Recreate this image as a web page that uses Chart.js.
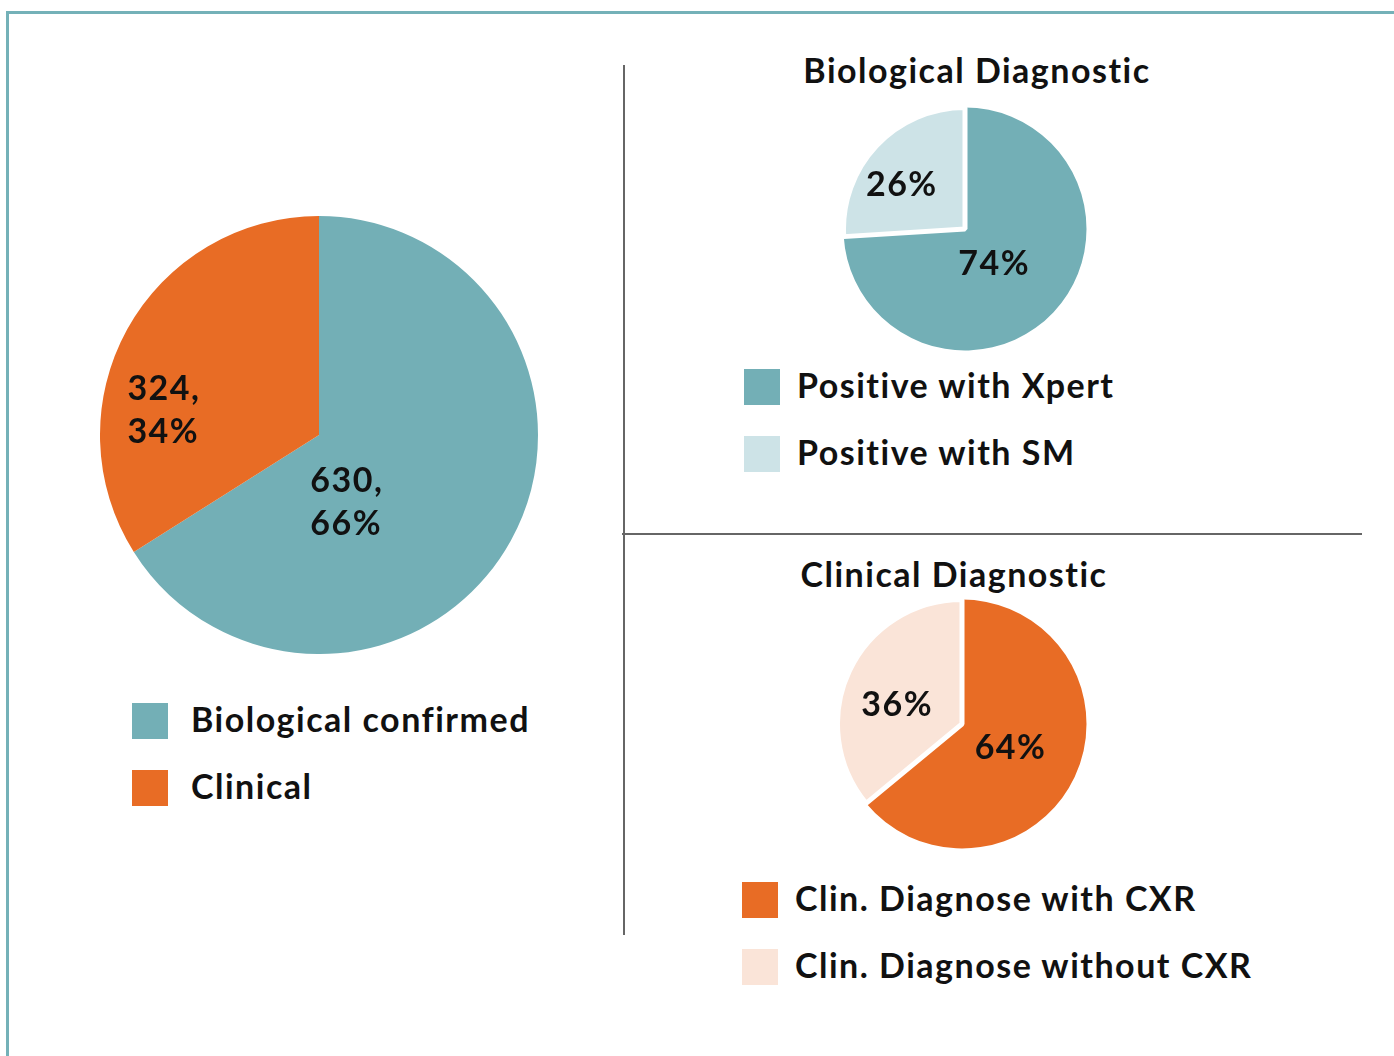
<!DOCTYPE html>
<html>
<head>
<meta charset="utf-8">
<script src="https://cdn.jsdelivr.net/npm/chart.js@4.4.1/dist/chart.umd.min.js"></script>
<style>
  body { margin: 0; background: #fff; font-family: Lato, "DejaVu Sans", sans-serif; }
  #page { position: relative; width: 1394px; height: 1056px; overflow: hidden; }
  #frame { position: absolute; left: 6px; top: 11px; right: -10px; bottom: -10px;
           border-left: 3px solid #74b1b8; border-top: 3px solid #74b1b8; }
  .pie { position: absolute; }
  .title { position: absolute; font-weight: 700; font-size: 34px; letter-spacing: 1.5px; color: #111;
           white-space: nowrap; transform: translate(-50%, -50%); }
  .legend { position: absolute; }
  .legend .item { position: relative; height: 36px; margin-bottom: 31px; white-space: nowrap; }
  .legend .sw { position: absolute; left: 0; top: 0; width: 36px; height: 36px; }
  .legend .txt { position: absolute; top: 50%; transform: translateY(-56%);
                 font-weight: 700; font-size: 34px; letter-spacing: 1.5px; color: #111; }
  .vline { position: absolute; left: 623px; top: 65px; width: 2px; height: 870px; background: #666; }
  .hline { position: absolute; left: 622px; top: 533px; width: 740px; height: 2px; background: #666; }
</style>
</head>
<body>
<div id="page">
  <div id="frame"></div>
  <div class="vline"></div>
  <div class="hline"></div>

  <canvas id="pieMain" class="pie" style="left:100px;top:216px"></canvas>
  <div class="legend" id="legMain" style="left:132px;top:703px"></div>

  <div class="title" style="left:977px;top:69px">Biological Diagnostic</div>
  <canvas id="pieBio" class="pie" style="left:841px;top:105px"></canvas>
  <div class="legend" id="legBio" style="left:744px;top:369px"></div>

  <div class="title" style="left:954px;top:573px">Clinical Diagnostic</div>
  <canvas id="pieClin" class="pie" style="left:835px;top:597px"></canvas>
  <div class="legend" id="legClin" style="left:742px;top:882px"></div>
</div>

<script>
// ---- data ----
const mainLabels = ['Biological confirmed', 'Clinical'];
const mainCounts = [630, 324];
const mainShares = [66, 34];

const bioLabels = ['Positive with Xpert', 'Positive with SM'];
const bioShares = [74, 26];

const clinLabels = ['Clin. Diagnose with CXR', 'Clin. Diagnose without CXR'];
const clinShares = [64, 36];

const teal = '#73afb6';
const orange = '#e86c25';
const lightTeal = '#cde3e7';
const peach = '#fae4d8';

// label text drawn inside the slices, placed relative to the pie centre (in radius units)
const sliceLabels = {
    id: 'sliceLabels',
    afterDatasetsDraw(chart, args, opts) {
        const meta = chart.getDatasetMeta(0);
        const ctx = chart.ctx;
        const arc0 = meta.data[0];
        const cx = arc0.x, cy = arc0.y, r = arc0.outerRadius;
        ctx.save();
        ctx.fillStyle = '#111';
        ctx.font = '700 34px Lato, sans-serif';
        ctx.letterSpacing = '1.5px';
        ctx.textBaseline = 'middle';
        meta.data.forEach((arc, i) => {
            const lines = opts.text[i];
            const p = opts.pos[i];
            ctx.textAlign = opts.align || 'center';
            const lh = 43;
            const y0 = cy + p[1] * r - (lines.length - 1) * lh / 2;
            lines.forEach((t, k) => ctx.fillText(t, cx + p[0] * r, y0 + k * lh));
        });
        ctx.restore();
    }
};

function makePie(id, size, values, colors, borders, labelOpts) {
    const cv = document.getElementById(id);
    cv.width = size; cv.height = size;
    cv.style.width = size + 'px'; cv.style.height = size + 'px';
    return new Chart(cv, {
        type: 'pie',
        data: {
            datasets: [{
                data: values,
                backgroundColor: colors,
                borderColor: '#fff',
                borderWidth: borders
            }]
        },
        options: {
            responsive: false,
            animation: false,
            layout: { padding: 0 },
            plugins: {
                legend: { display: false },
                tooltip: { enabled: false },
                sliceLabels: labelOpts
            }
        },
        plugins: [sliceLabels]
    });
}

function makeLegend(id, labels, colors, textLeft) {
    const el = document.getElementById(id);
    labels.forEach((l, i) => {
        const item = document.createElement('div');
        item.className = 'item';
        item.innerHTML = '<div class="sw" style="background:' + colors[i] + '"></div>' +
            '<div class="txt" style="left:' + textLeft + 'px">' + l + '</div>';
        el.appendChild(item);
    });
}

makePie('pieMain', 438, mainCounts, [teal, orange], [0, 0], {
    text: mainCounts.map((c, i) => [c + ',', mainShares[i] + '%']),
    pos: [[-0.04, 0.31], [-0.875, -0.11]],
    align: 'left'
});
makeLegend('legMain', mainLabels, [teal, orange], 59);

makePie('pieBio', 248, bioShares, [teal, lightTeal], [0, 5], {
    text: bioShares.map(s => [s + '%']),
    pos: [[0.24, 0.29], [-0.52, -0.36]]
});
makeLegend('legBio', bioLabels, [teal, lightTeal], 53);

makePie('pieClin', 254, clinShares, [orange, peach], [0, 5], {
    text: clinShares.map(s => [s + '%']),
    pos: [[0.39, 0.19], [-0.52, -0.15]]
});
makeLegend('legClin', clinLabels, [orange, peach], 53);
</script>
</body>
</html>
